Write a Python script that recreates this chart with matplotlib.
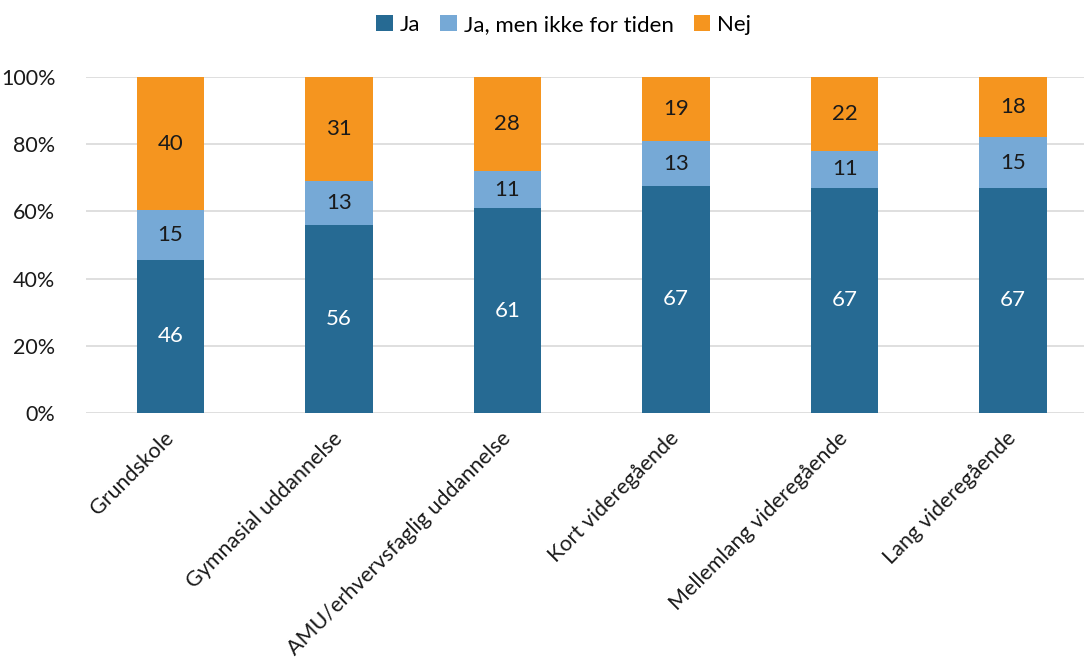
import matplotlib
matplotlib.use("Agg")
import matplotlib.pyplot as plt
from matplotlib.ticker import PercentFormatter
import numpy as np

plt.rcParams['font.family'] = ['Lato', 'DejaVu Sans']

categories = ["Grundskole", "Gymnasial uddannelse", "AMU/erhvervsfaglig uddannelse",
              "Kort videregående", "Mellemlang videregående", "Lang videregående"]
series_names = ["Ja", "Ja, men ikke for tiden", "Nej"]
ja = [46, 56, 61, 67, 67, 67]
ja_ikke_nu = [15, 13, 11, 13, 11, 15]
nej = [40, 31, 28, 19, 22, 18]
colors = ["#266A93", "#76A9D6", "#F5951F"]
label_colors = ["white", "#1a1a1a", "#1a1a1a"]

data = np.array([ja, ja_ikke_nu, nej], dtype=float)
totals = data.sum(axis=0)
shares = data / totals * 100

fig = plt.figure(figsize=(10.84, 6.66), dpi=100)
ax = fig.add_axes([0.0793, 0.3799, 0.9207, 0.5045])

x = np.arange(len(categories))
bottom = np.zeros(len(categories))
for i, name in enumerate(series_names):
    ax.bar(x, shares[i], bottom=bottom, width=0.4, color=colors[i],
           label=name, zorder=3)
    for xi, b, h, v in zip(x, bottom, shares[i], data[i]):
        ax.text(xi, b + h / 2, f"{int(v)}", ha="center", va="center",
                fontsize=16, color=label_colors[i], zorder=4)
    bottom += shares[i]

ax.set_ylim(0, 100)
ax.set_xlim(-0.5, 5.42)
ax.set_yticks(np.arange(0, 101, 20))
ax.yaxis.set_major_formatter(PercentFormatter(decimals=0))
ax.grid(axis="y", color="#d9d9d9", linewidth=1.2, zorder=0)
for s in ax.spines.values():
    s.set_visible(False)
ax.tick_params(axis="both", length=0, labelsize=15.5, colors="#1a1a1a")
ax.tick_params(axis="y", pad=22)
ax.set_xticks(x)
ax.set_xticklabels(categories, rotation=45, ha="right", va="center",
                   rotation_mode="anchor")
ax.tick_params(axis="x", pad=16)

handles, labels = ax.get_legend_handles_labels()
fig.legend(handles, labels, loc="center", bbox_to_anchor=(0.52, 0.963), ncol=3,
           frameon=False, fontsize=16, handlelength=0.75, handleheight=0.75,
           handletextpad=0.3, columnspacing=0.9)

fig.savefig("out.png", dpi=100)
